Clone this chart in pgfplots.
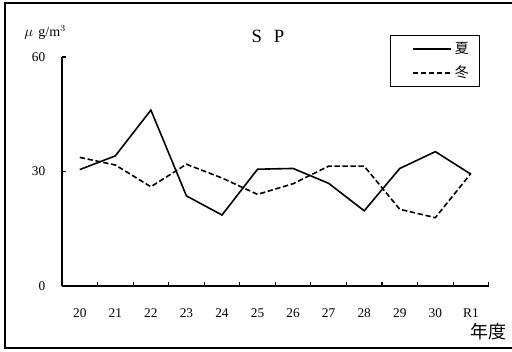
\documentclass[border=0pt]{standalone}
\usepackage{fontspec}
\setmainfont{Liberation Serif}
\newfontfamily\jp{Noto Sans CJK JP}
\usepackage{pgfplots}
\pgfplotsset{compat=1.18}

\begin{document}
\begin{tikzpicture}
% frame round the whole chart (right side runs off the page as in the reference)
\useasboundingbox (0pt,0pt) rectangle (384pt,263.25pt);
\draw[line width=0.9pt] (3.75pt,2.25pt) rectangle (392pt,261pt);
\begin{axis}[
  at={(46.5pt,48.75pt)}, anchor=south west,
  scale only axis,
  width=320pt, height=171.75pt,
  xmin=-0.5, xmax=11.5,
  ymin=0, ymax=60,
  axis x line*=bottom,
  axis y line*=left,
  axis line style={-, line width=0.9pt},
  xtick={0,...,11},
  xticklabels={20,21,22,23,24,25,26,27,28,29,30,R1},
  major x tick style={draw=none},
  minor xtick={-0.5,0.5,...,11.5},
  minor tick length=3pt,
  minor tick style={line width=0.9pt},
  ytick={0,30,60},
  major tick length=3pt,
  tick align=inside,
  tick style={line width=0.9pt, black},
  /pgf/number format/assume math mode=true,
  ticklabel style={font=\fontsize{10}{12}\selectfont},
  xticklabel style={yshift=-13.5pt},
  yticklabel style={xshift=-9pt},
  legend style={at={(0.98,1.096)}, anchor=north east, draw=black, line width=0.9pt,
    font=\jp\fontsize{10.5}{12}\selectfont, row sep=4pt, inner xsep=6pt, inner ysep=3pt},
  legend cell align=left,
  legend image code/.code={\path (-10pt,0pt); \draw[#1] plot coordinates {(0pt,0pt) (14.5pt,0pt) (29pt,0pt)};},
  clip=false,
]
\addplot[black, line width=1.2pt] coordinates {
(0,30.5) (1,34.1) (2,46.1) (3,23.6) (4,18.6) (5,30.6)
(6,30.8) (7,26.9) (8,19.7) (9,30.8) (10,35.2) (11,29.3)
};
\addlegendentry{夏}
\addplot[black, line width=1.2pt, dash pattern=on 4pt off 2pt] coordinates {
(0,33.7) (1,31.7) (2,26.0) (3,31.9) (4,28.3) (5,24.0)
(6,26.8) (7,31.4) (8,31.4) (9,20.1) (10,17.9) (11,29.5)
};
\addlegendentry{冬}
\end{axis}
\node[font=\fontsize{14}{16}\selectfont] at (201pt,236.25pt) {S\hspace{9pt}P};
\node[anchor=base west, inner sep=0pt, font=\fontsize{10.5}{12}\selectfont] at (18pt,236pt) {$\mu$\hspace{4pt}g/m$^{3}$};
\node[anchor=east, inner sep=0pt, font=\jp\fontsize{13.5}{15}\selectfont] at (380.25pt,14.25pt) {年度};
\end{tikzpicture}
\end{document}
